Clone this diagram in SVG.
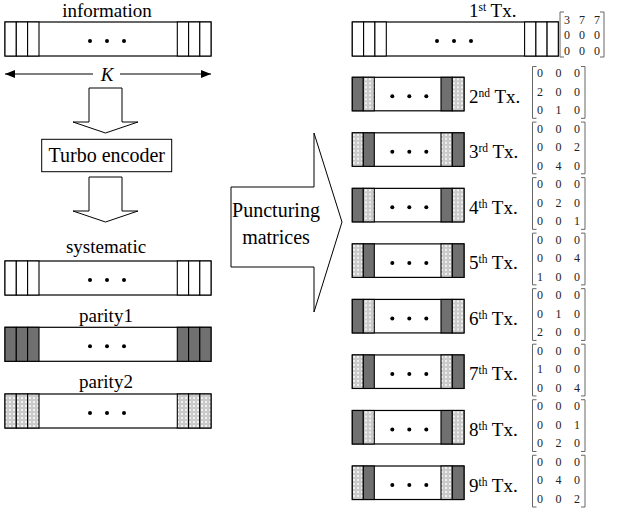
<svg xmlns="http://www.w3.org/2000/svg" width="619" height="512" viewBox="0 0 619 512" font-family="'Liberation Serif', 'DejaVu Serif', serif">
  <style>
    text { font-family: "Liberation Serif", "DejaVu Serif", serif; fill: #000; }
    .lbl { font-size: 19px; text-anchor: middle; }
    .big { font-size: 20px; }
    .tx { font-size: 19px; }
    .sup { font-size: 11.5px; }
    .num { font-size: 12px; text-anchor: middle; fill: #222; }
    .frame { fill: #fff; stroke: #000; stroke-width: 1.2; }
    .cell { stroke: #000; stroke-width: 1.1; }
    .plain { fill: #fff; }
    .dark { fill: #707070; }
    .mesh { fill: url(#mesh); }
    .brk { fill: none; stroke: #666; stroke-width: 1; }
    .shape { fill: #fff; stroke: #000; stroke-width: 1; }
  </style>
  <defs>
    <pattern id="mesh" width="4" height="4" patternUnits="userSpaceOnUse">
      <rect width="4" height="4" fill="#c4c4c4"/>
      <circle cx="2" cy="2" r="1.25" fill="#f2f2f2"/>
      <circle cx="0" cy="0" r="0.6" fill="#e4e4e4"/>
      <circle cx="4" cy="4" r="0.6" fill="#e4e4e4"/>
      <circle cx="0" cy="4" r="0.6" fill="#e4e4e4"/>
      <circle cx="4" cy="0" r="0.6" fill="#e4e4e4"/>
    </pattern>
    <marker id="tip" viewBox="0 0 10 8" refX="10" refY="4" markerWidth="10" markerHeight="8" markerUnits="userSpaceOnUse" orient="auto">
      <path d="M0,0 L10,4 L0,8 Z" fill="#000"/>
    </marker>
  </defs>

  <!-- information word -->
  <g id="information">
    <text class="lbl" x="107" y="16.5">information</text>
    <rect class="frame" x="5" y="22" width="206" height="34"/>
    <g class="cell plain">
      <rect x="5" y="22" width="11.3" height="34"/><rect x="16.3" y="22" width="11.3" height="34"/><rect x="27.6" y="22" width="11.4" height="34"/>
      <rect x="177.3" y="22" width="11.3" height="34"/><rect x="188.6" y="22" width="11.2" height="34"/><rect x="199.8" y="22" width="11.2" height="34"/>
    </g>
    <circle cx="90" cy="41" r="2"/><circle cx="107" cy="41" r="2"/><circle cx="124" cy="41" r="2"/>
  </g>

  <!-- block length -->
  <g id="length">
    <line x1="93" y1="74" x2="5" y2="74" stroke="#000" stroke-width="1" marker-end="url(#tip)"/>
    <line x1="120" y1="74" x2="211" y2="74" stroke="#000" stroke-width="1" marker-end="url(#tip)"/>
    <text class="lbl" x="107" y="80.5" font-style="italic">K</text>
  </g>

  <g id="connectors">
    <path class="shape" d="M89,88 L122,88 L122,122 L138,122 L105.5,133 L73,122 L89,122 Z"/>
    <path class="shape" d="M89,177 L122,177 L122,211 L138,211 L105.5,222 L73,211 L89,211 Z"/>
  </g>

  <g id="turbo-encoder">
    <rect class="shape" x="41.7" y="139.3" width="130" height="32.4"/>
    <text class="lbl big" x="106.7" y="162">Turbo encoder</text>
  </g>

  <!-- encoder outputs -->
  <g id="systematic">
    <text class="lbl" x="106" y="253">systematic</text>
    <rect class="frame" x="5" y="261" width="206" height="34"/>
    <g class="cell plain">
      <rect x="5" y="261" width="11.3" height="34"/><rect x="16.3" y="261" width="11.3" height="34"/><rect x="27.6" y="261" width="11.4" height="34"/>
      <rect x="177.3" y="261" width="11.3" height="34"/><rect x="188.6" y="261" width="11.2" height="34"/><rect x="199.8" y="261" width="11.2" height="34"/>
    </g>
    <circle cx="90" cy="280" r="2"/><circle cx="107" cy="280" r="2"/><circle cx="124" cy="280" r="2"/>
  </g>

  <g id="parity1">
    <text class="lbl" x="106" y="321.5">parity1</text>
    <rect class="frame" x="5" y="327.3" width="206" height="34"/>
    <g class="cell dark">
      <rect x="5" y="327.3" width="11.3" height="34"/><rect x="16.3" y="327.3" width="11.3" height="34"/><rect x="27.6" y="327.3" width="11.4" height="34"/>
      <rect x="177.3" y="327.3" width="11.3" height="34"/><rect x="188.6" y="327.3" width="11.2" height="34"/><rect x="199.8" y="327.3" width="11.2" height="34"/>
    </g>
    <circle cx="90" cy="346.3" r="2"/><circle cx="107" cy="346.3" r="2"/><circle cx="124" cy="346.3" r="2"/>
  </g>

  <g id="parity2">
    <text class="lbl" x="106" y="388.3">parity2</text>
    <rect class="frame" x="5" y="394" width="206" height="34"/>
    <g class="cell mesh">
      <rect x="5" y="394" width="11.3" height="34"/><rect x="16.3" y="394" width="11.3" height="34"/><rect x="27.6" y="394" width="11.4" height="34"/>
      <rect x="177.3" y="394" width="11.3" height="34"/><rect x="188.6" y="394" width="11.2" height="34"/><rect x="199.8" y="394" width="11.2" height="34"/>
    </g>
    <circle cx="90" cy="413" r="2"/><circle cx="107" cy="413" r="2"/><circle cx="124" cy="413" r="2"/>
  </g>

  <!-- puncturing block arrow -->
  <g id="puncturing">
    <path class="shape" d="M231,187 L314,187 L314,133 L342,222 L314,312 L314,267 L231,267 Z"/>
    <text class="lbl big" x="276" y="216.5">Puncturing</text>
    <text class="lbl big" x="276" y="244">matrices</text>
  </g>

  <!-- 1st transmission -->
  <g id="tx1">
    <text class="tx" x="469" y="16.6" font-size="18.5">1<tspan class="sup" dy="-5.5">st</tspan><tspan dy="5.5"> Tx.</tspan></text>
    <rect class="frame" x="352.3" y="22" width="206" height="34"/>
    <g class="cell plain">
      <rect x="352.3" y="22" width="11.3" height="34"/><rect x="363.6" y="22" width="11.3" height="34"/><rect x="374.9" y="22" width="11.4" height="34"/>
      <rect x="524.6" y="22" width="11.3" height="34"/><rect x="535.9" y="22" width="11.2" height="34"/><rect x="547.1" y="22" width="11.2" height="34"/>
    </g>
    <circle cx="437" cy="41" r="2"/><circle cx="454" cy="41" r="2"/><circle cx="471" cy="41" r="2"/>
    <path class="brk" d="M564,12 L560,12 L560,57 L564,57 M600,12 L604,12 L604,57 L600,57"/>
    <text class="num" x="567" y="23.5">3</text><text class="num" x="582" y="23.5">7</text><text class="num" x="597" y="23.5">7</text>
    <text class="num" x="567" y="39">0</text><text class="num" x="582" y="39">0</text><text class="num" x="597" y="39">0</text>
    <text class="num" x="567" y="54.5">0</text><text class="num" x="582" y="54.5">0</text><text class="num" x="597" y="54.5">0</text>
  </g>

  <!-- later transmissions: local origin at top of the short bar -->
  <g id="tx2" transform="translate(0,77.3)">
    <rect class="frame" x="352.3" y="0" width="111.7" height="33.5"/>
    <g class="cell"><rect class="dark" x="352.3" y="0" width="11" height="33.5"/><rect class="mesh" x="363.3" y="0" width="11" height="33.5"/><rect class="dark" x="441" y="0" width="11.3" height="33.5"/><rect class="mesh" x="452.3" y="0" width="11.7" height="33.5"/></g>
    <circle cx="392.3" cy="19" r="2"/><circle cx="409.3" cy="19" r="2"/><circle cx="426.3" cy="19" r="2"/>
    <text class="tx" x="469" y="25.5">2<tspan class="sup" dy="-6">nd</tspan><tspan dy="6"> Tx.</tspan></text>
    <path class="brk" d="M536.5,-10.75 L532.5,-10.75 L532.5,41 L536.5,41 M581,-10.75 L585,-10.75 L585,41 L581,41"/>
    <text class="num" x="540" y="-0.25">0</text><text class="num" x="558.5" y="-0.25">0</text><text class="num" x="577" y="-0.25">0</text>
    <text class="num" x="540" y="18.25">2</text><text class="num" x="558.5" y="18.25">0</text><text class="num" x="577" y="18.25">0</text>
    <text class="num" x="540" y="36.75">0</text><text class="num" x="558.5" y="36.75">1</text><text class="num" x="577" y="36.75">0</text>
  </g>

  <g id="tx3" transform="translate(0,132.83)">
    <rect class="frame" x="352.3" y="0" width="111.7" height="33.5"/>
    <g class="cell"><rect class="mesh" x="352.3" y="0" width="11" height="33.5"/><rect class="dark" x="363.3" y="0" width="11" height="33.5"/><rect class="mesh" x="441" y="0" width="11.3" height="33.5"/><rect class="dark" x="452.3" y="0" width="11.7" height="33.5"/></g>
    <circle cx="392.3" cy="19" r="2"/><circle cx="409.3" cy="19" r="2"/><circle cx="426.3" cy="19" r="2"/>
    <text class="tx" x="469" y="25.5">3<tspan class="sup" dy="-6">rd</tspan><tspan dy="6"> Tx.</tspan></text>
    <path class="brk" d="M536.5,-10.75 L532.5,-10.75 L532.5,41 L536.5,41 M581,-10.75 L585,-10.75 L585,41 L581,41"/>
    <text class="num" x="540" y="-0.25">0</text><text class="num" x="558.5" y="-0.25">0</text><text class="num" x="577" y="-0.25">0</text>
    <text class="num" x="540" y="18.25">0</text><text class="num" x="558.5" y="18.25">0</text><text class="num" x="577" y="18.25">2</text>
    <text class="num" x="540" y="36.75">0</text><text class="num" x="558.5" y="36.75">4</text><text class="num" x="577" y="36.75">0</text>
  </g>

  <g id="tx4" transform="translate(0,188.36)">
    <rect class="frame" x="352.3" y="0" width="111.7" height="33.5"/>
    <g class="cell"><rect class="dark" x="352.3" y="0" width="11" height="33.5"/><rect class="mesh" x="363.3" y="0" width="11" height="33.5"/><rect class="dark" x="441" y="0" width="11.3" height="33.5"/><rect class="mesh" x="452.3" y="0" width="11.7" height="33.5"/></g>
    <circle cx="392.3" cy="19" r="2"/><circle cx="409.3" cy="19" r="2"/><circle cx="426.3" cy="19" r="2"/>
    <text class="tx" x="469" y="25.5">4<tspan class="sup" dy="-6">th</tspan><tspan dy="6"> Tx.</tspan></text>
    <path class="brk" d="M536.5,-10.75 L532.5,-10.75 L532.5,41 L536.5,41 M581,-10.75 L585,-10.75 L585,41 L581,41"/>
    <text class="num" x="540" y="-0.25">0</text><text class="num" x="558.5" y="-0.25">0</text><text class="num" x="577" y="-0.25">0</text>
    <text class="num" x="540" y="18.25">0</text><text class="num" x="558.5" y="18.25">2</text><text class="num" x="577" y="18.25">0</text>
    <text class="num" x="540" y="36.75">0</text><text class="num" x="558.5" y="36.75">0</text><text class="num" x="577" y="36.75">1</text>
  </g>

  <g id="tx5" transform="translate(0,243.89)">
    <rect class="frame" x="352.3" y="0" width="111.7" height="33.5"/>
    <g class="cell"><rect class="mesh" x="352.3" y="0" width="11" height="33.5"/><rect class="dark" x="363.3" y="0" width="11" height="33.5"/><rect class="mesh" x="441" y="0" width="11.3" height="33.5"/><rect class="dark" x="452.3" y="0" width="11.7" height="33.5"/></g>
    <circle cx="392.3" cy="19" r="2"/><circle cx="409.3" cy="19" r="2"/><circle cx="426.3" cy="19" r="2"/>
    <text class="tx" x="469" y="25.5">5<tspan class="sup" dy="-6">th</tspan><tspan dy="6"> Tx.</tspan></text>
    <path class="brk" d="M536.5,-10.75 L532.5,-10.75 L532.5,41 L536.5,41 M581,-10.75 L585,-10.75 L585,41 L581,41"/>
    <text class="num" x="540" y="-0.25">0</text><text class="num" x="558.5" y="-0.25">0</text><text class="num" x="577" y="-0.25">0</text>
    <text class="num" x="540" y="18.25">0</text><text class="num" x="558.5" y="18.25">0</text><text class="num" x="577" y="18.25">4</text>
    <text class="num" x="540" y="36.75">1</text><text class="num" x="558.5" y="36.75">0</text><text class="num" x="577" y="36.75">0</text>
  </g>

  <g id="tx6" transform="translate(0,299.42)">
    <rect class="frame" x="352.3" y="0" width="111.7" height="33.5"/>
    <g class="cell"><rect class="dark" x="352.3" y="0" width="11" height="33.5"/><rect class="mesh" x="363.3" y="0" width="11" height="33.5"/><rect class="dark" x="441" y="0" width="11.3" height="33.5"/><rect class="mesh" x="452.3" y="0" width="11.7" height="33.5"/></g>
    <circle cx="392.3" cy="19" r="2"/><circle cx="409.3" cy="19" r="2"/><circle cx="426.3" cy="19" r="2"/>
    <text class="tx" x="469" y="25.5">6<tspan class="sup" dy="-6">th</tspan><tspan dy="6"> Tx.</tspan></text>
    <path class="brk" d="M536.5,-10.75 L532.5,-10.75 L532.5,41 L536.5,41 M581,-10.75 L585,-10.75 L585,41 L581,41"/>
    <text class="num" x="540" y="-0.25">0</text><text class="num" x="558.5" y="-0.25">0</text><text class="num" x="577" y="-0.25">0</text>
    <text class="num" x="540" y="18.25">0</text><text class="num" x="558.5" y="18.25">1</text><text class="num" x="577" y="18.25">0</text>
    <text class="num" x="540" y="36.75">2</text><text class="num" x="558.5" y="36.75">0</text><text class="num" x="577" y="36.75">0</text>
  </g>

  <g id="tx7" transform="translate(0,354.95)">
    <rect class="frame" x="352.3" y="0" width="111.7" height="33.5"/>
    <g class="cell"><rect class="mesh" x="352.3" y="0" width="11" height="33.5"/><rect class="dark" x="363.3" y="0" width="11" height="33.5"/><rect class="mesh" x="441" y="0" width="11.3" height="33.5"/><rect class="dark" x="452.3" y="0" width="11.7" height="33.5"/></g>
    <circle cx="392.3" cy="19" r="2"/><circle cx="409.3" cy="19" r="2"/><circle cx="426.3" cy="19" r="2"/>
    <text class="tx" x="469" y="25.5">7<tspan class="sup" dy="-6">th</tspan><tspan dy="6"> Tx.</tspan></text>
    <path class="brk" d="M536.5,-10.75 L532.5,-10.75 L532.5,41 L536.5,41 M581,-10.75 L585,-10.75 L585,41 L581,41"/>
    <text class="num" x="540" y="-0.25">0</text><text class="num" x="558.5" y="-0.25">0</text><text class="num" x="577" y="-0.25">0</text>
    <text class="num" x="540" y="18.25">1</text><text class="num" x="558.5" y="18.25">0</text><text class="num" x="577" y="18.25">0</text>
    <text class="num" x="540" y="36.75">0</text><text class="num" x="558.5" y="36.75">0</text><text class="num" x="577" y="36.75">4</text>
  </g>

  <g id="tx8" transform="translate(0,410.48)">
    <rect class="frame" x="352.3" y="0" width="111.7" height="33.5"/>
    <g class="cell"><rect class="dark" x="352.3" y="0" width="11" height="33.5"/><rect class="mesh" x="363.3" y="0" width="11" height="33.5"/><rect class="dark" x="441" y="0" width="11.3" height="33.5"/><rect class="mesh" x="452.3" y="0" width="11.7" height="33.5"/></g>
    <circle cx="392.3" cy="19" r="2"/><circle cx="409.3" cy="19" r="2"/><circle cx="426.3" cy="19" r="2"/>
    <text class="tx" x="469" y="25.5">8<tspan class="sup" dy="-6">th</tspan><tspan dy="6"> Tx.</tspan></text>
    <path class="brk" d="M536.5,-10.75 L532.5,-10.75 L532.5,41 L536.5,41 M581,-10.75 L585,-10.75 L585,41 L581,41"/>
    <text class="num" x="540" y="-0.25">0</text><text class="num" x="558.5" y="-0.25">0</text><text class="num" x="577" y="-0.25">0</text>
    <text class="num" x="540" y="18.25">0</text><text class="num" x="558.5" y="18.25">0</text><text class="num" x="577" y="18.25">1</text>
    <text class="num" x="540" y="36.75">0</text><text class="num" x="558.5" y="36.75">2</text><text class="num" x="577" y="36.75">0</text>
  </g>

  <g id="tx9" transform="translate(0,466.01)">
    <rect class="frame" x="352.3" y="0" width="111.7" height="33.5"/>
    <g class="cell"><rect class="mesh" x="352.3" y="0" width="11" height="33.5"/><rect class="dark" x="363.3" y="0" width="11" height="33.5"/><rect class="mesh" x="441" y="0" width="11.3" height="33.5"/><rect class="dark" x="452.3" y="0" width="11.7" height="33.5"/></g>
    <circle cx="392.3" cy="19" r="2"/><circle cx="409.3" cy="19" r="2"/><circle cx="426.3" cy="19" r="2"/>
    <text class="tx" x="469" y="25.5">9<tspan class="sup" dy="-6">th</tspan><tspan dy="6"> Tx.</tspan></text>
    <path class="brk" d="M536.5,-10.75 L532.5,-10.75 L532.5,41 L536.5,41 M581,-10.75 L585,-10.75 L585,41 L581,41"/>
    <text class="num" x="540" y="-0.25">0</text><text class="num" x="558.5" y="-0.25">0</text><text class="num" x="577" y="-0.25">0</text>
    <text class="num" x="540" y="18.25">0</text><text class="num" x="558.5" y="18.25">4</text><text class="num" x="577" y="18.25">0</text>
    <text class="num" x="540" y="36.75">0</text><text class="num" x="558.5" y="36.75">0</text><text class="num" x="577" y="36.75">2</text>
  </g>
</svg>
